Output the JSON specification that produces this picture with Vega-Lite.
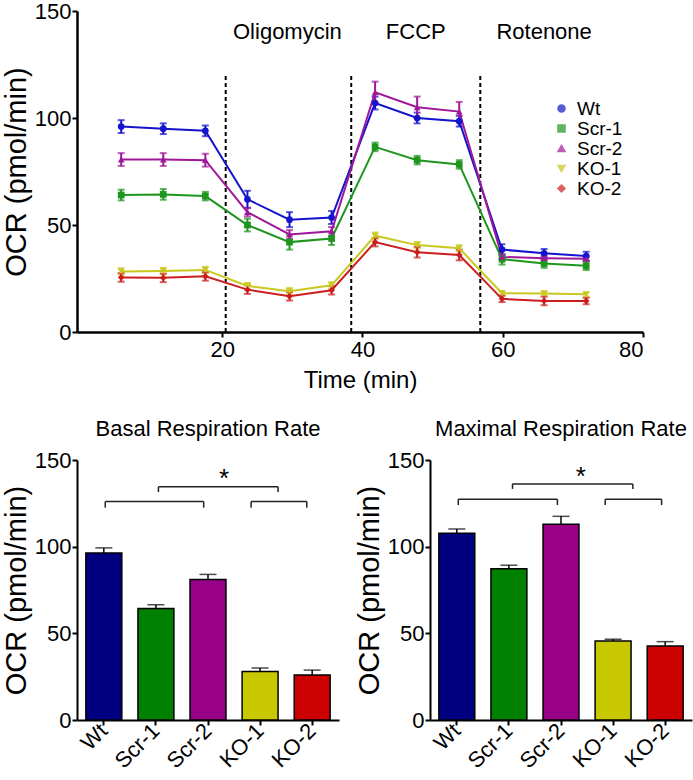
{
  "$schema": "https://vega.github.io/schema/vega-lite/v6.json",
  "background": "white",
  "padding": {"left": 2, "top": 0, "right": 2, "bottom": 2},
  "bounds": "flush",
  "resolve": {"scale": {"color": "independent", "shape": "independent"}, "legend": {"color": "independent", "shape": "independent"}},
  "config": {
    "font": "Liberation Sans",
    "view": {"stroke": null},
    "axis": {"domainColor": "black", "domainWidth": 2.5, "tickColor": "black", "tickWidth": 2, "tickSize": 5, "labelColor": "black", "titleColor": "black", "labelFontSize": 22, "titleFontSize": 29, "titleFontWeight": "normal", "grid": false, "labelPadding": 2},
    "axisY": {"labelPadding": 1, "titlePadding": 3},
    "title": {"fontSize": 22, "fontWeight": "normal", "color": "black"}
  },
  "datasets": {
    "ts": [
      {"g": "Wt", "t": 5.6, "v": 96, "e": 3}, {"g": "Wt", "t": 11.6, "v": 95, "e": 2.5}, {"g": "Wt", "t": 17.6, "v": 94, "e": 2.5},
      {"g": "Wt", "t": 23.6, "v": 62, "e": 4}, {"g": "Wt", "t": 29.6, "v": 52.5, "e": 3.5}, {"g": "Wt", "t": 35.6, "v": 53.5, "e": 3},
      {"g": "Wt", "t": 41.8, "v": 107, "e": 3}, {"g": "Wt", "t": 47.8, "v": 100, "e": 2.5}, {"g": "Wt", "t": 53.8, "v": 98.5, "e": 2.5},
      {"g": "Wt", "t": 59.9, "v": 38.5, "e": 2.5}, {"g": "Wt", "t": 65.9, "v": 36.8, "e": 2}, {"g": "Wt", "t": 71.9, "v": 35.5, "e": 2},
      {"g": "Scr-1", "t": 5.6, "v": 64, "e": 2.5}, {"g": "Scr-1", "t": 11.6, "v": 64.3, "e": 2.5}, {"g": "Scr-1", "t": 17.6, "v": 63.5, "e": 2},
      {"g": "Scr-1", "t": 23.6, "v": 50, "e": 3}, {"g": "Scr-1", "t": 29.6, "v": 42, "e": 3.5}, {"g": "Scr-1", "t": 35.6, "v": 43.7, "e": 3},
      {"g": "Scr-1", "t": 41.8, "v": 86.5, "e": 2}, {"g": "Scr-1", "t": 47.8, "v": 80.3, "e": 2}, {"g": "Scr-1", "t": 53.8, "v": 78.3, "e": 2},
      {"g": "Scr-1", "t": 59.9, "v": 34, "e": 2.5}, {"g": "Scr-1", "t": 65.9, "v": 32, "e": 2}, {"g": "Scr-1", "t": 71.9, "v": 31, "e": 2},
      {"g": "Scr-2", "t": 5.6, "v": 80.6, "e": 3}, {"g": "Scr-2", "t": 11.6, "v": 80.6, "e": 3}, {"g": "Scr-2", "t": 17.6, "v": 80.3, "e": 3},
      {"g": "Scr-2", "t": 23.6, "v": 56, "e": 2}, {"g": "Scr-2", "t": 29.6, "v": 45.6, "e": 2}, {"g": "Scr-2", "t": 35.6, "v": 47.1, "e": 2},
      {"g": "Scr-2", "t": 41.8, "v": 112, "e": 5}, {"g": "Scr-2", "t": 47.8, "v": 105, "e": 5}, {"g": "Scr-2", "t": 53.8, "v": 103, "e": 4.5},
      {"g": "Scr-2", "t": 59.9, "v": 35.1, "e": 1}, {"g": "Scr-2", "t": 65.9, "v": 34.5, "e": 1}, {"g": "Scr-2", "t": 71.9, "v": 34.2, "e": 1},
      {"g": "KO-1", "t": 5.6, "v": 28.3, "e": 1.5}, {"g": "KO-1", "t": 11.6, "v": 28.5, "e": 1.5}, {"g": "KO-1", "t": 17.6, "v": 29, "e": 1.5},
      {"g": "KO-1", "t": 23.6, "v": 21.5, "e": 1.5}, {"g": "KO-1", "t": 29.6, "v": 19.1, "e": 1.5}, {"g": "KO-1", "t": 35.6, "v": 21.8, "e": 1.5},
      {"g": "KO-1", "t": 41.8, "v": 45, "e": 1.5}, {"g": "KO-1", "t": 47.8, "v": 40.6, "e": 1.5}, {"g": "KO-1", "t": 53.8, "v": 39.1, "e": 1.5},
      {"g": "KO-1", "t": 59.9, "v": 18.1, "e": 1}, {"g": "KO-1", "t": 65.9, "v": 18, "e": 1}, {"g": "KO-1", "t": 71.9, "v": 17.6, "e": 1},
      {"g": "KO-2", "t": 5.6, "v": 25.5, "e": 2}, {"g": "KO-2", "t": 11.6, "v": 25.3, "e": 2}, {"g": "KO-2", "t": 17.6, "v": 26, "e": 2},
      {"g": "KO-2", "t": 23.6, "v": 19.8, "e": 2}, {"g": "KO-2", "t": 29.6, "v": 16.7, "e": 2}, {"g": "KO-2", "t": 35.6, "v": 19.5, "e": 2},
      {"g": "KO-2", "t": 41.8, "v": 42, "e": 2}, {"g": "KO-2", "t": 47.8, "v": 37.3, "e": 2.5}, {"g": "KO-2", "t": 53.8, "v": 36, "e": 2.5},
      {"g": "KO-2", "t": 59.9, "v": 15.5, "e": 1.5}, {"g": "KO-2", "t": 65.9, "v": 14.5, "e": 2}, {"g": "KO-2", "t": 71.9, "v": 14.5, "e": 1.5}
    ],
    "inj": [
      {"t": 20.5, "bot": 0, "top": 121, "label": "Oligomycin", "lt": 29.3, "ly": 140},
      {"t": 38.4, "bot": 0, "top": 121, "label": "FCCP", "lt": 47.6, "ly": 140},
      {"t": 56.8, "bot": 0, "top": 121, "label": "Rotenone", "lt": 65.9, "ly": 140}
    ],
    "basal": [
      {"g": "Wt", "v": 96.3, "e": 3}, {"g": "Scr-1", "v": 64.3, "e": 2.2}, {"g": "Scr-2", "v": 81, "e": 3},
      {"g": "KO-1", "v": 28, "e": 2}, {"g": "KO-2", "v": 26, "e": 2.8}
    ],
    "maximal": [
      {"g": "Wt", "v": 107.7, "e": 2.5}, {"g": "Scr-1", "v": 87.3, "e": 2}, {"g": "Scr-2", "v": 113, "e": 4.5},
      {"g": "KO-1", "v": 45.6, "e": 1}, {"g": "KO-2", "v": 42.7, "e": 2.5}
    ]
  },
  "spacing": 128,
  "vconcat": [
    {
      "width": 566,
      "height": 321,
      "data": {"name": "ts"},
      "layer": [
        {
          "data": {"name": "inj"},
          "mark": {"type": "rule", "strokeDash": [4, 3], "strokeWidth": 2, "color": "black"},
          "encoding": {
            "x": {"field": "t", "type": "quantitative", "scale": {"domain": [-0.7, 80], "nice": false}},
            "y": {"field": "bot", "type": "quantitative"},
            "y2": {"field": "top"}
          }
        },
        {
          "data": {"name": "inj"},
          "mark": {"type": "text", "fontSize": 22, "color": "black"},
          "encoding": {
            "x": {"field": "lt", "type": "quantitative"},
            "y": {"field": "ly", "type": "quantitative"},
            "text": {"field": "label"}
          }
        },
        {
          "mark": {"type": "errorbar", "ticks": {"size": 7}, "thickness": 2},
          "encoding": {
            "x": {"field": "t", "type": "quantitative"},
            "y": {"field": "v", "type": "quantitative", "title": "OCR (pmol/min)"},
            "yError": {"field": "e"},
            "color": {"field": "g", "type": "nominal"}
          }
        },
        {
          "mark": {"type": "line", "strokeWidth": 2},
          "encoding": {
            "x": {"field": "t", "type": "quantitative"},
            "y": {"field": "v", "type": "quantitative"},
            "color": {"field": "g", "type": "nominal"}
          }
        },
        {
          "mark": {"type": "point", "filled": true, "size": 45, "opacity": 1},
          "encoding": {
            "x": {"field": "t", "type": "quantitative", "title": "Time (min)",
                  "axis": {"values": [20, 40, 60, 80], "titleFontSize": 24, "titlePadding": 8}},
            "y": {"field": "v", "type": "quantitative", "title": "OCR (pmol/min)",
                  "scale": {"domain": [0, 150], "nice": false},
                  "axis": {"values": [0, 50, 100, 150]}},
            "color": {"field": "g", "type": "nominal",
                      "scale": {"domain": ["Wt", "Scr-1", "Scr-2", "KO-1", "KO-2"], "range": ["#1414cc", "#1e961e", "#a0189a", "#c8c81e", "#cc1e1e"]},
                      "legend": {"orient": "none", "legendX": 475, "legendY": 88, "title": null, "labelFontSize": 19, "labelOffset": 6, "rowPadding": -3, "symbolSize": 50, "labelColor": "black"}},
            "shape": {"field": "g", "type": "nominal",
                      "scale": {"domain": ["Wt", "Scr-1", "Scr-2", "KO-1", "KO-2"], "range": ["circle", "square", "triangle-up", "triangle-down", "diamond"]},
                      "legend": {"orient": "none", "legendX": 475, "legendY": 88, "title": null, "labelFontSize": 19, "labelOffset": 6, "rowPadding": -3, "symbolSize": 50, "labelColor": "black"}}
          }
        }
      ]
    },
    {
      "spacing": 91,
      "bounds": "flush",
      "hconcat": [
        {
          "width": 262,
          "height": 260,
          "title": {"text": "Basal Respiration Rate", "offset": 8},
          "data": {"name": "basal"},
          "layer": [
            {
              "mark": {"type": "errorbar", "ticks": {"size": 17}, "color": "black", "thickness": 1.5},
              "encoding": {
                "x": {"field": "g", "type": "nominal", "title": null, "scale": {"domain": ["Wt", "Scr-1", "Scr-2", "KO-1", "KO-2"], "paddingInner": 0.31, "paddingOuter": 0.17}},
                "y": {"field": "v", "type": "quantitative", "title": "OCR (pmol/min)"},
                "yError": {"field": "e"}
              }
            },
            {
              "mark": {"type": "bar", "stroke": "black", "strokeWidth": 1.5},
              "encoding": {
                "x": {"field": "g", "type": "nominal", "title": null, "scale": {"domain": ["Wt", "Scr-1", "Scr-2", "KO-1", "KO-2"], "paddingInner": 0.31, "paddingOuter": 0.17},
                      "axis": {"labelAngle": -45, "labelFontSize": 22, "tickSize": 5, "domainWidth": 2}},
                "y": {"field": "v", "type": "quantitative", "title": "OCR (pmol/min)", "scale": {"domain": [0, 150], "nice": false},
                      "axis": {"values": [0, 50, 100, 150], "domainWidth": 2}},
                "color": {"field": "g", "type": "nominal", "legend": null,
                          "scale": {"domain": ["Wt", "Scr-1", "Scr-2", "KO-1", "KO-2"], "range": ["#000080", "#008000", "#990088", "#c8c800", "#cc0000"]}}
              }
            },
            {
              "data": {"values": [{"a": "Wt", "b": "Scr-2", "y": 126, "y0": 122.5}]},
              "layer": [
                {"mark": {"type": "rule", "strokeWidth": 1.5, "color": "#222"},
                 "encoding": {"x": {"field": "a", "type": "nominal", "bandPosition": 0.54, "title": null}, "x2": {"field": "b", "bandPosition": 0.38}, "y": {"field": "y", "type": "quantitative"}}},
                {"mark": {"type": "rule", "strokeWidth": 1.5, "color": "#222"},
                 "encoding": {"x": {"field": "a", "type": "nominal", "bandPosition": 0.54, "title": null}, "y": {"field": "y", "type": "quantitative"}, "y2": {"field": "y0"}}},
                {"mark": {"type": "rule", "strokeWidth": 1.5, "color": "#222"},
                 "encoding": {"x": {"field": "b", "type": "nominal", "bandPosition": 0.38, "title": null}, "y": {"field": "y", "type": "quantitative"}, "y2": {"field": "y0"}}}
              ]
            },
            {
              "data": {"values": [{"a": "Scr-1", "b": "KO-1", "y": 134.5, "y0": 131.5}]},
              "layer": [
                {"mark": {"type": "rule", "strokeWidth": 1.5, "color": "#222"},
                 "encoding": {"x": {"field": "a", "type": "nominal", "bandPosition": 0.57, "title": null}, "x2": {"field": "b", "bandPosition": 1.0}, "y": {"field": "y", "type": "quantitative"}}},
                {"mark": {"type": "rule", "strokeWidth": 1.5, "color": "#222"},
                 "encoding": {"x": {"field": "a", "type": "nominal", "bandPosition": 0.57, "title": null}, "y": {"field": "y", "type": "quantitative"}, "y2": {"field": "y0"}}},
                {"mark": {"type": "rule", "strokeWidth": 1.5, "color": "#222"},
                 "encoding": {"x": {"field": "b", "type": "nominal", "bandPosition": 1.0, "title": null}, "y": {"field": "y", "type": "quantitative"}, "y2": {"field": "y0"}}}
              ]
            },
            {
              "data": {"values": [{"a": "KO-1", "b": "KO-2", "y": 126, "y0": 122.5}]},
              "layer": [
                {"mark": {"type": "rule", "strokeWidth": 1.5, "color": "#222"},
                 "encoding": {"x": {"field": "a", "type": "nominal", "bandPosition": 0.25, "title": null}, "x2": {"field": "b", "bandPosition": 0.35}, "y": {"field": "y", "type": "quantitative"}}},
                {"mark": {"type": "rule", "strokeWidth": 1.5, "color": "#222"},
                 "encoding": {"x": {"field": "a", "type": "nominal", "bandPosition": 0.25, "title": null}, "y": {"field": "y", "type": "quantitative"}, "y2": {"field": "y0"}}},
                {"mark": {"type": "rule", "strokeWidth": 1.5, "color": "#222"},
                 "encoding": {"x": {"field": "b", "type": "nominal", "bandPosition": 0.35, "title": null}, "y": {"field": "y", "type": "quantitative"}, "y2": {"field": "y0"}}}
              ]
            },
            {
              "data": {"values": [{"a": "Scr-2", "y": 139, "s": "*"}]},
              "mark": {"type": "text", "fontSize": 26, "color": "black"},
              "encoding": {"x": {"field": "a", "type": "nominal", "bandPosition": 0.95, "title": null}, "y": {"field": "y", "type": "quantitative"}, "text": {"field": "s"}}
            }
          ]
        },
        {
          "width": 262,
          "height": 260,
          "title": {"text": "Maximal Respiration Rate", "offset": 8},
          "data": {"name": "maximal"},
          "layer": [
            {
              "mark": {"type": "errorbar", "ticks": {"size": 17}, "color": "black", "thickness": 1.5},
              "encoding": {
                "x": {"field": "g", "type": "nominal", "title": null, "scale": {"domain": ["Wt", "Scr-1", "Scr-2", "KO-1", "KO-2"], "paddingInner": 0.31, "paddingOuter": 0.17}},
                "y": {"field": "v", "type": "quantitative", "title": "OCR (pmol/min)"},
                "yError": {"field": "e"}
              }
            },
            {
              "mark": {"type": "bar", "stroke": "black", "strokeWidth": 1.5},
              "encoding": {
                "x": {"field": "g", "type": "nominal", "title": null, "scale": {"domain": ["Wt", "Scr-1", "Scr-2", "KO-1", "KO-2"], "paddingInner": 0.31, "paddingOuter": 0.17},
                      "axis": {"labelAngle": -45, "labelFontSize": 22, "tickSize": 5, "domainWidth": 2}},
                "y": {"field": "v", "type": "quantitative", "title": "OCR (pmol/min)", "scale": {"domain": [0, 150], "nice": false},
                      "axis": {"values": [0, 50, 100, 150], "domainWidth": 2}},
                "color": {"field": "g", "type": "nominal", "legend": null,
                          "scale": {"domain": ["Wt", "Scr-1", "Scr-2", "KO-1", "KO-2"], "range": ["#000080", "#008000", "#990088", "#c8c800", "#cc0000"]}}
              }
            },
            {
              "data": {"values": [{"a": "Wt", "b": "Scr-2", "y": 127.4, "y0": 124}]},
              "layer": [
                {"mark": {"type": "rule", "strokeWidth": 1.5, "color": "#222"},
                 "encoding": {"x": {"field": "a", "type": "nominal", "bandPosition": 0.54, "title": null}, "x2": {"field": "b", "bandPosition": 0.4}, "y": {"field": "y", "type": "quantitative"}}},
                {"mark": {"type": "rule", "strokeWidth": 1.5, "color": "#222"},
                 "encoding": {"x": {"field": "a", "type": "nominal", "bandPosition": 0.54, "title": null}, "y": {"field": "y", "type": "quantitative"}, "y2": {"field": "y0"}}},
                {"mark": {"type": "rule", "strokeWidth": 1.5, "color": "#222"},
                 "encoding": {"x": {"field": "b", "type": "nominal", "bandPosition": 0.4, "title": null}, "y": {"field": "y", "type": "quantitative"}, "y2": {"field": "y0"}}}
              ]
            },
            {
              "data": {"values": [{"a": "Scr-1", "b": "KO-1", "y": 136.2, "y0": 133.3}]},
              "layer": [
                {"mark": {"type": "rule", "strokeWidth": 1.5, "color": "#222"},
                 "encoding": {"x": {"field": "a", "type": "nominal", "bandPosition": 0.6, "title": null}, "x2": {"field": "b", "bandPosition": 1.05}, "y": {"field": "y", "type": "quantitative"}}},
                {"mark": {"type": "rule", "strokeWidth": 1.5, "color": "#222"},
                 "encoding": {"x": {"field": "a", "type": "nominal", "bandPosition": 0.6, "title": null}, "y": {"field": "y", "type": "quantitative"}, "y2": {"field": "y0"}}},
                {"mark": {"type": "rule", "strokeWidth": 1.5, "color": "#222"},
                 "encoding": {"x": {"field": "b", "type": "nominal", "bandPosition": 1.05, "title": null}, "y": {"field": "y", "type": "quantitative"}, "y2": {"field": "y0"}}}
              ]
            },
            {
              "data": {"values": [{"a": "KO-1", "b": "KO-2", "y": 127.4, "y0": 124}]},
              "layer": [
                {"mark": {"type": "rule", "strokeWidth": 1.5, "color": "#222"},
                 "encoding": {"x": {"field": "a", "type": "nominal", "bandPosition": 0.28, "title": null}, "x2": {"field": "b", "bandPosition": 0.4}, "y": {"field": "y", "type": "quantitative"}}},
                {"mark": {"type": "rule", "strokeWidth": 1.5, "color": "#222"},
                 "encoding": {"x": {"field": "a", "type": "nominal", "bandPosition": 0.28, "title": null}, "y": {"field": "y", "type": "quantitative"}, "y2": {"field": "y0"}}},
                {"mark": {"type": "rule", "strokeWidth": 1.5, "color": "#222"},
                 "encoding": {"x": {"field": "b", "type": "nominal", "bandPosition": 0.4, "title": null}, "y": {"field": "y", "type": "quantitative"}, "y2": {"field": "y0"}}}
              ]
            },
            {
              "data": {"values": [{"a": "Scr-2", "y": 140, "s": "*"}]},
              "mark": {"type": "text", "fontSize": 26, "color": "black"},
              "encoding": {"x": {"field": "a", "type": "nominal", "bandPosition": 1.05, "title": null}, "y": {"field": "y", "type": "quantitative"}, "text": {"field": "s"}}
            }
          ]
        }
      ]
    }
  ]
}
